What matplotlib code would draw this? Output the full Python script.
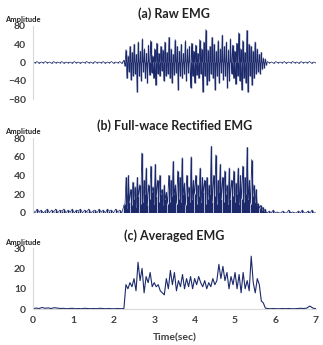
import numpy as np
import matplotlib.pyplot as plt

# =============================================================================
# Data
# =============================================================================
BURST_START = 2.25
BURST_END = 5.80

# --- (a) Raw EMG ---
raw_rest_before = [
    1, -1, 2, -2, 1, -1, 2, -1, 1, -2, 2, -1, 1, -1, 2, -2, 1, -1, 1, -2,
    2, -1, 1, -2, 1, -1, 2, -1, 1, -2, 2, -1, 1, -1, 2, -2, 1, -1, 2, -2,
    1, -1, 2, -2,
]
raw_burst = [
    5, -8, 28, -35, 15, -20, 35, -38, 22, -30, 40, -25, 18, -65, 45, -30, 25, -40, 52, -20,
    30, -35, 20, -45, 38, -28, 48, -22, 15, -35, 30, -50, 42, -25, 20, -30, 35, -18, 28, -40,
    45, -30, 22, -25, 55, -35, 30, -45, 18, -28, 50, -22, 35, -60, 25, -30, 40, -35, 20, -25,
    48, -40, 30, -22, 35, -55, 42, -30, 25, -45, 38, -28, 20, -35, 50, -25, 30, -65, 45, -30,
    72, -50, 28, -40, 35, -25, 55, -35, 40, -60, 25, -30, 48, -45, 30, -22, 60, -38, 35, -30,
    45, -55, 28, -40, 52, -25, 38, -35, 25, -48, 42, -30, 65, -40, 30, -60, 48, -35, 22, -45,
    70, -65, 40, -30, 35, -50, 25, -35, 45, -25, 30, -20, 18, -25, 22, -15, 10, -12, 8, -6,
]
raw_rest_after = [
    2, -1, 1, -2, 2, -1, 1, -1, 2, -2, 1, -1, 2, -1, 1, -2, 2, -1, 1, -1,
    2, -2, 1, -1,
]

# --- (b) Full-wave rectified EMG ---
rect_rest_before = [
    3, 0, 4, 1, 3, 0, 2, 4, 0, 3, 1, 4, 0, 3, 2, 4, 0, 3, 1, 4,
    0, 3, 2, 4, 0, 3, 1, 4, 0, 2, 3, 0, 4, 1, 3, 0, 4, 2, 3, 0,
    4, 1, 3, 0,
]
rect_burst = [
    8, 10, 38, 5, 40, 12, 25, 8, 33, 15, 28, 6, 38, 18, 30, 10, 64, 12, 35, 20,
    48, 8, 30, 15, 50, 22, 28, 10, 52, 18, 35, 12, 40, 20, 25, 8, 30, 15, 22, 10,
    40, 12, 35, 18, 55, 20, 30, 10, 45, 15, 38, 12, 59, 20, 32, 8, 40, 18, 28, 12,
    60, 15, 35, 20, 40, 10, 30, 18, 48, 12, 38, 22, 35, 10, 38, 15, 30, 20, 71, 12,
    40, 18, 62, 10, 35, 22, 52, 15, 38, 12, 45, 20, 30, 10, 48, 15, 35, 18, 45, 12,
    32, 20, 48, 10, 40, 15, 50, 12, 38, 20, 70, 15, 35, 10, 57, 18, 30, 12, 25, 8,
    10, 5, 8, 3, 6, 2, 4, 1,
]
rect_rest_after = [
    0, 2, 0, 3, 0, 1, 0, 0, 2, 0, 0, 3, 0, 1, 0, 0, 2, 0, 3, 0,
    0, 2, 0, 3, 0, 0,
]

# --- (c) Averaged EMG ---
avg_rest_before = [
    0.2, 0.5, 0.3, 0.8, 0.4, 0.6, 0.3, 0.7, 0.5, 0.3, 0.4, 0.2, 0.3, 0.4, 0.2, 0.3,
    0.2, 0.4, 0.3, 0.2, 0.3, 0.2, 0.4, 0.3, 0.2, 0.3, 0.2, 0.2, 0.3, 0.2,
]
avg_burst = [
    0.3, 12, 10, 13, 11, 15, 9, 23, 14, 20, 8, 16, 13, 18, 11, 13, 11, 12, 9, 8,
    7, 15, 10, 19, 12, 18, 9, 14, 11, 17, 10, 15, 11, 16, 10, 15, 12, 16, 13, 11,
    14, 10, 13, 11, 15, 12, 14, 22, 15, 21, 14, 18, 10, 16, 12, 18, 10, 17, 8, 18,
    10, 14, 9, 26, 13, 8, 15, 12, 4, 3, 0.5,
]
avg_rest_after = [
    0.3, 0.2, 0.3, 0.2, 0.2, 0.3, 0.2, 0.3, 0.2, 0.2, 0.3, 0.4, 0.3, 0.5, 1.5, 0.5,
    0.2,
]

X_TICKS = [0, 1, 2, 3, 4, 5, 6, 7]

LINE_COLOR = '#1c2a6b'
SPINE_COLOR = '#d9d9d9'
TEXT_COLOR = '#404040'

plt.rcParams['font.family'] = ['Lato', 'DejaVu Sans']


def build_series(before, burst, after):
    """Place the three segments on the time axis."""
    t1 = np.linspace(0.0, BURST_START, len(before), endpoint=False)
    t2 = np.linspace(BURST_START, BURST_END, len(burst), endpoint=False)
    t3 = np.linspace(BURST_END, 7.0, len(after))
    return np.concatenate([t1, t2, t3]), np.concatenate([before, burst, after])


def style_axis(ax, title, yticks, ylim, show_x):
    ax.set_xlim(0, 7)
    ax.set_ylim(*ylim)
    ax.set_yticks(yticks)
    for side in ['top', 'right']:
        ax.spines[side].set_visible(False)
    ax.spines['left'].set_color(SPINE_COLOR)
    ax.spines['bottom'].set_color(SPINE_COLOR)
    ax.spines['bottom'].set_visible(show_x)
    ax.tick_params(length=0, labelsize=7.5, labelcolor=TEXT_COLOR, pad=5)
    for lab in ax.get_yticklabels():
        lab.set_fontweight('bold')
    if show_x:
        ax.set_xticks(X_TICKS)
        for lab in ax.get_xticklabels():
            lab.set_fontweight('bold')
    else:
        ax.set_xticks([])
    ax.set_title(title, fontsize=9, fontweight='bold', color='#222222', pad=6)


def dense_trace(ax, t, y):
    """Draw a dense EMG-like trace: spikes from zero plus the connecting line."""
    ax.vlines(t, 0, y, color=LINE_COLOR, lw=1.0)
    ax.plot(t, y, color=LINE_COLOR, lw=0.5)


fig = plt.figure(figsize=(3.23, 3.45), dpi=100)

# (a)
ax_a = fig.add_axes([0.102, 0.713, 0.876, 0.212])
t, y = build_series(raw_rest_before, raw_burst, raw_rest_after)
dense_trace(ax_a, t, y)
style_axis(ax_a, '(a) Raw EMG', [-80, -40, 0, 40, 80], (-80, 80), False)

# (b)
ax_b = fig.add_axes([0.102, 0.383, 0.876, 0.217])
t, y = build_series(rect_rest_before, rect_burst, rect_rest_after)
dense_trace(ax_b, t, y)
style_axis(ax_b, '(b) Full-wace Rectified EMG', [0, 20, 40, 60, 80], (0, 80), False)

# (c)
ax_c = fig.add_axes([0.102, 0.104, 0.876, 0.177])
t, y = build_series(avg_rest_before, avg_burst, avg_rest_after)
ax_c.plot(t, y, color=LINE_COLOR, lw=0.8)
style_axis(ax_c, '(c) Averaged EMG', [0, 10, 20, 30], (0, 30), True)
ax_c.set_xlabel('Time(sec)', fontsize=7.5, fontweight='bold', color=TEXT_COLOR, labelpad=6)

for ax in [ax_a, ax_b, ax_c]:
    ax.text(-0.1, 1.04, 'Amplitude', transform=ax.transAxes, fontsize=5.5,
            fontweight='bold', color='#222222', ha='left', va='bottom')

fig.savefig('out.png', dpi=100)
